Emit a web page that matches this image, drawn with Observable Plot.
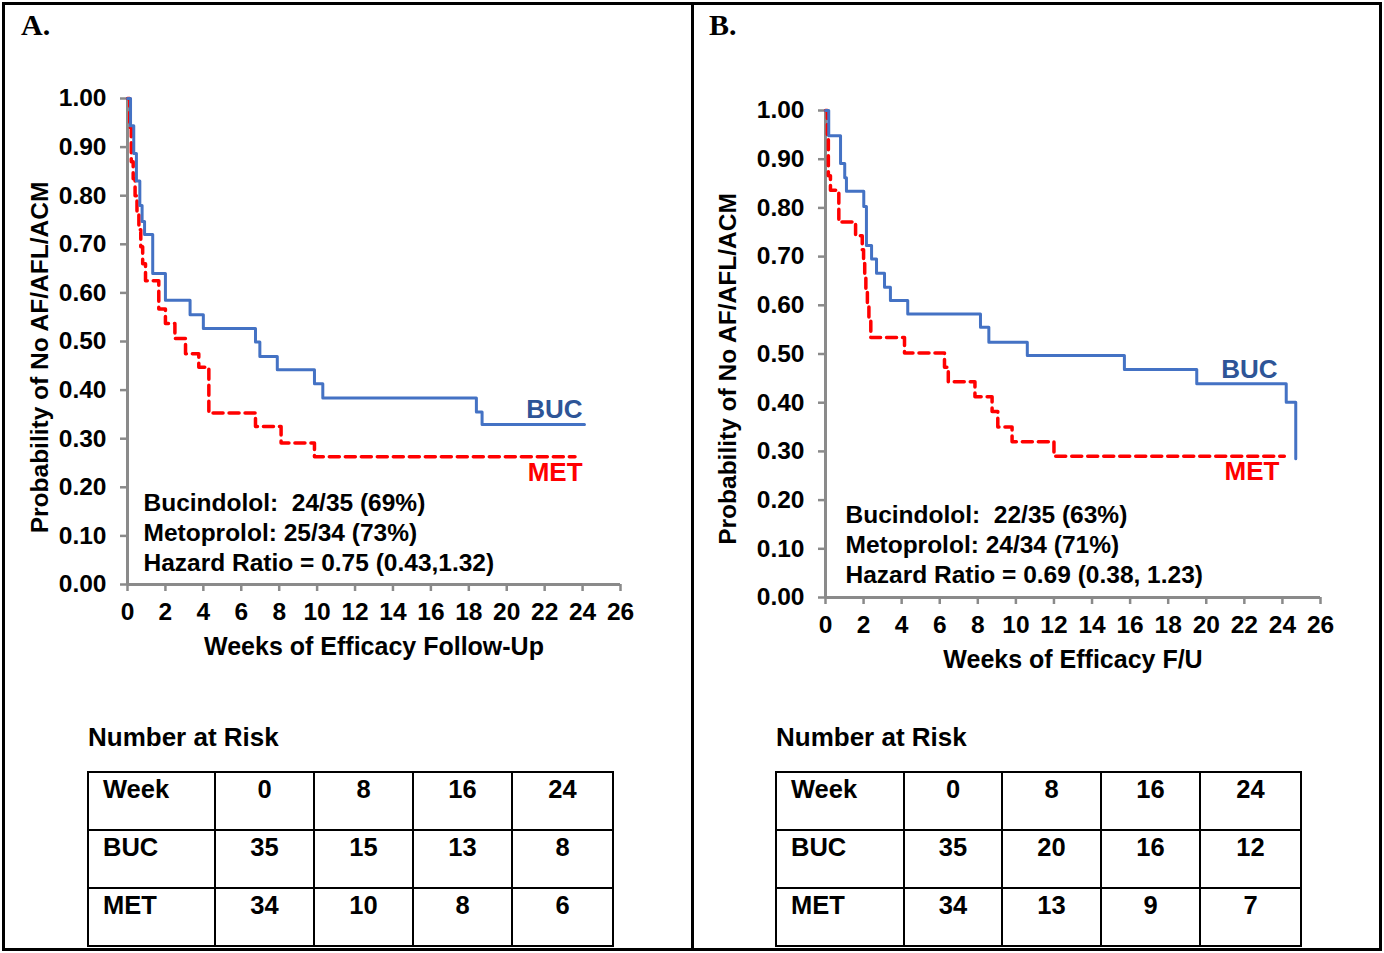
<!DOCTYPE html>
<html>
<head>
<meta charset="utf-8">
<script src="https://cdn.jsdelivr.net/npm/d3@7"></script>
<script src="https://cdn.jsdelivr.net/npm/@observablehq/plot@0.6"></script>
<style>
html, body { margin: 0; padding: 0; background: #fff; }
#root { position: relative; width: 1384px; height: 953px; overflow: hidden; font-family: "Liberation Sans", Arial, sans-serif; color: #000; }
.frame { position: absolute; left: 2px; top: 2px; width: 1380px; height: 949px; border: 3px solid #000; box-sizing: border-box; }
.divider { position: absolute; left: 691px; top: 2px; width: 3px; height: 949px; background: #000; }
.letter { position: absolute; font-family: "Liberation Serif", "Times New Roman", serif; font-weight: bold; font-size: 30px; line-height: 1; }
.risk-title { position: absolute; font-weight: bold; font-size: 26px; line-height: 1; }
.chart { position: absolute; top: 0; width: 692px; height: 700px; }
table.risk { position: absolute; border-collapse: collapse; table-layout: fixed; font-weight: bold; font-size: 25.5px; }
table.risk td { border: 2px solid #000; height: 58px; padding: 2px 0 0 0; vertical-align: top; text-align: center; box-sizing: border-box; line-height: 1.15; }
table.risk td.rowlab { text-align: left; padding-left: 14px; }
</style>
</head>
<body>
<div id="root">
  <div class="frame"></div>
  <div class="divider"></div>
  <div class="letter" style="left:21px; top:10px;">A.</div>
  <div class="letter" style="left:709px; top:10px;">B.</div>
  <div id="chartA" class="chart" style="left:0px;"></div>
  <div id="chartB" class="chart" style="left:692px;"></div>
  <div class="risk-title" style="left:88px; top:724px;">Number at Risk</div>
  <div class="risk-title" style="left:776px; top:724px;">Number at Risk</div>
  <div id="tableA"></div>
  <div id="tableB"></div>
</div>
<script>
// ---------- Data ----------
// Panel A: Kaplan-Meier steps (week of drop, survival after drop)
const aBucWeeks = [0, 0.16, 0.33, 0.47, 0.65, 0.77, 0.9, 1.33, 2.0, 3.3, 4.0, 6.75, 6.98, 7.9, 9.86, 10.3, 18.4, 18.7, 24.1];
const aBucSurv  = [1.0, 0.944, 0.887, 0.83, 0.78, 0.747, 0.72, 0.64, 0.585, 0.555, 0.527, 0.499, 0.469, 0.442, 0.413, 0.384, 0.355, 0.329, 0.329];
const aMetWeeks = [0, 0.12, 0.2, 0.3, 0.4, 0.5, 0.6, 0.7, 0.8, 0.95, 1.65, 2.0, 2.5, 3.06, 3.76, 4.29, 6.75, 8.1, 9.86, 23.6];
const aMetSurv  = [1.0, 0.94, 0.87, 0.835, 0.80, 0.765, 0.73, 0.695, 0.66, 0.625, 0.567, 0.537, 0.506, 0.475, 0.447, 0.353, 0.325, 0.291, 0.263, 0.263];

// Panel B
const bBucWeeks = [0, 0.17, 0.79, 1.01, 1.1, 2.01, 2.15, 2.42, 2.68, 3.1, 3.41, 4.32, 8.14, 8.58, 10.6, 15.7, 19.5, 24.2, 24.7];
const bBucSurv  = [1.0, 0.948, 0.891, 0.862, 0.834, 0.803, 0.723, 0.695, 0.666, 0.637, 0.610, 0.582, 0.555, 0.524, 0.497, 0.468, 0.439, 0.401, 0.285];
const bMetWeeks = [0, 0.1, 0.15, 0.26, 0.7, 1.58, 1.93, 2.0, 2.06, 2.12, 2.2, 2.28, 2.38, 4.15, 6.25, 6.45, 7.85, 8.75, 9.05, 9.8, 12.0, 24.1];
const bMetSurv  = [1.0, 0.942, 0.866, 0.836, 0.771, 0.743, 0.714, 0.686, 0.657, 0.629, 0.60, 0.571, 0.534, 0.502, 0.473, 0.443, 0.412, 0.382, 0.35, 0.32, 0.29, 0.29];

// Axis ticks
const xTicks = [0, 2, 4, 6, 8, 10, 12, 14, 16, 18, 20, 22, 24, 26];
const yTicks = [0, 0.1, 0.2, 0.3, 0.4, 0.5, 0.6, 0.7, 0.8, 0.9, 1.0];

// Text
const yLabel = "Probability of No AF/AFL/ACM";
const xLabelA = "Weeks of Efficacy Follow-Up";
const xLabelB = "Weeks of Efficacy F/U";
const statsA = ["Bucindolol:\u00a0 24/35 (69%)", "Metoprolol: 25/34 (73%)", "Hazard Ratio = 0.75 (0.43,1.32)"];
const statsB = ["Bucindolol:\u00a0 22/35 (63%)", "Metoprolol: 24/34 (71%)", "Hazard Ratio = 0.69 (0.38, 1.23)"];

// Number at risk
const riskWeeks = [0, 8, 16, 24];
const riskA_BUC = [35, 15, 13, 8];
const riskA_MET = [34, 10, 8, 6];
const riskB_BUC = [35, 20, 16, 12];
const riskB_MET = [34, 13, 9, 7];

// ---------- Drawing ----------
const BLUE = "#4472C4", RED = "#FF0000", BLUE_TXT = "#2E5597", GREY = "#8a8a8a";
const toRows = (w, s) => w.map((t, i) => ({t, s: s[i]}));
const FS = 24.5;

function kmPlot(o) {
  return Plot.plot({
    width: 692, height: 700,
    marginLeft: o.ml, marginRight: o.mr, marginTop: o.mt, marginBottom: o.mb,
    x: {domain: [0, 26], label: null},
    y: {domain: [0, 1], label: null},
    style: {fontFamily: "'Liberation Sans', Arial, sans-serif", fontSize: FS + "px", fontWeight: "bold", color: "#000", background: "transparent", overflow: "visible"},
    marks: [
      Plot.axisX({ticks: xTicks, tickSize: 7, tickPadding: 11, stroke: GREY, strokeWidth: 2.5, label: null, tickFormat: d3.format("d")}),
      Plot.axisY({ticks: yTicks, tickSize: 7, tickPadding: 14, stroke: GREY, strokeWidth: 2.5, label: null, tickFormat: d3.format(".2f")}),
      Plot.ruleY([0], {stroke: GREY, strokeWidth: 3}),
      Plot.ruleX([0], {stroke: GREY, strokeWidth: 3}),
      Plot.line(o.met, {x: "t", y: "s", curve: "step-after", stroke: RED, strokeWidth: 3.5, strokeDasharray: "10,6"}),
      Plot.line(o.buc, {x: "t", y: "s", curve: "step-after", stroke: BLUE, strokeWidth: 3}),
      Plot.text(["BUC"], {x: o.bucLab[0], y: o.bucLab[1], textAnchor: "end", fill: BLUE_TXT, fontSize: 26, fontWeight: "bold"}),
      Plot.text(["MET"], {x: o.metLab[0], y: o.metLab[1], textAnchor: "end", fill: RED, fontSize: 26, fontWeight: "bold"}),
      Plot.text([o.stats.join("\n")], {frameAnchor: "bottom-left", dx: o.statsDx, dy: o.statsDy, textAnchor: "start", lineAnchor: "middle", lineHeight: 1.23, fontSize: FS, fontWeight: "bold", fill: "#000"}),
      Plot.text([yLabel], {frameAnchor: "left", rotate: -90, dx: o.ylDx, dy: o.ylDy, textAnchor: "middle", fontSize: FS, fontWeight: "bold", fill: "#000"}),
      Plot.text([o.xLabel], {frameAnchor: "bottom", dy: 70, textAnchor: "middle", fontSize: 25, fontWeight: "bold", fill: "#000"})
    ]
  });
}

document.getElementById("chartA").append(kmPlot({
  ml: 127, mr: 72, mt: 98, mb: 116,
  buc: toRows(aBucWeeks, aBucSurv), met: toRows(aMetWeeks, aMetSurv),
  bucLab: [24.0, 0.36], metLab: [24.0, 0.23],
  stats: statsA, statsDx: 16, statsDy: -53,
  ylDx: -87, ylDy: 16, xLabel: xLabelA
}));

document.getElementById("chartB").append(kmPlot({
  ml: 133, mr: 64, mt: 110, mb: 103,
  buc: toRows(bBucWeeks, bBucSurv), met: toRows(bMetWeeks, bMetSurv),
  bucLab: [23.74, 0.468], metLab: [23.84, 0.259],
  stats: statsB, statsDx: 20, statsDy: -54,
  ylDx: -97, ylDy: 15, xLabel: xLabelB
}));

function riskTable(el, left, colW, buc, met) {
  const t = document.createElement("table");
  t.className = "risk";
  t.style.left = left + "px";
  t.style.top = "771px";
  t.style.width = d3.sum(colW) + "px";
  const cg = document.createElement("colgroup");
  colW.forEach(w => { const c = document.createElement("col"); c.style.width = w + "px"; cg.append(c); });
  t.append(cg);
  const rows = [["Week", ...riskWeeks], ["BUC", ...buc], ["MET", ...met]];
  rows.forEach(r => {
    const tr = document.createElement("tr");
    r.forEach((v, i) => {
      const td = document.createElement("td");
      td.textContent = v;
      if (i === 0) td.className = "rowlab";
      tr.append(td);
    });
    t.append(tr);
  });
  el.append(t);
}
riskTable(document.getElementById("tableA"), 87, [127, 99, 99, 99, 101], riskA_BUC, riskA_MET);
riskTable(document.getElementById("tableB"), 775, [128, 98, 99, 99, 101], riskB_BUC, riskB_MET);
</script>
</body>
</html>
